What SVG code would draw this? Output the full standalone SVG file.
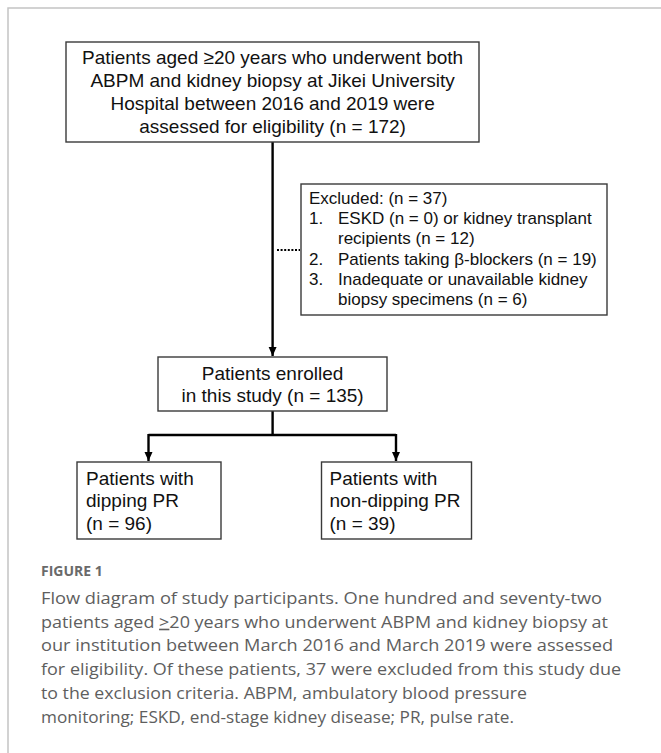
<svg xmlns="http://www.w3.org/2000/svg" width="661" height="753" viewBox="0 0 661 753">
<style>
.box{fill:#fff;stroke:#3a3a3a;stroke-width:1.4}
.t{font-family:"Liberation Sans",Arial,sans-serif;font-size:19px;fill:#111}
.ts{font-family:"Liberation Sans",Arial,sans-serif;font-size:17px;fill:#111}
.c{fill:none;stroke:#000;stroke-width:2.4}
.cap{font-family:"Open Sans","Noto Sans",sans-serif;font-size:16px;fill:#5e5e5e}
.fig{font-family:"Open Sans","Noto Sans",sans-serif;font-size:14px;font-weight:bold;fill:#6a6a6a}
</style>
<defs>
<marker id="ah" markerUnits="userSpaceOnUse" markerWidth="10" markerHeight="10" refX="9" refY="4" orient="auto">
<path d="M0,0 L9,4 L0,8 z" fill="#000"/>
</marker>
</defs>
<rect width="661" height="753" fill="#fff"/>
<path d="M8,753 V8 H661" fill="none" stroke="#c4c4c4" stroke-width="1.5"/>

<g id="connectors">
<path class="c" d="M272.6,142 V356" marker-end="url(#ah)"/>
<path d="M277,250 H300" fill="none" stroke="#000" stroke-width="2" stroke-dasharray="2 1.6"/>
<path class="c" d="M272.6,411 V435"/>
<path class="c" d="M148.5,435 H396"/>
<path class="c" d="M148.5,434 V461" marker-end="url(#ah)"/>
<path class="c" d="M396,434 V461" marker-end="url(#ah)"/>
</g>

<g id="assessed">
<rect class="box" x="66" y="42" width="413" height="100"/>
<text class="t" text-anchor="middle" x="272.6" y="64">Patients aged ≥20 years who underwent both</text>
<text class="t" text-anchor="middle" x="272.6" y="87">ABPM and kidney biopsy at Jikei University</text>
<text class="t" text-anchor="middle" x="272.6" y="110">Hospital between 2016 and 2019 were</text>
<text class="t" text-anchor="middle" x="272.6" y="133">assessed for eligibility (n = 172)</text>
</g>

<g id="excluded">
<rect class="box" x="301" y="184" width="306" height="131"/>
<text class="ts" x="309" y="204">Excluded: (n = 37)</text>
<text class="ts" x="309" y="224.2">1.</text>
<text class="ts" x="338" y="224.2">ESKD (n = 0) or kidney transplant</text>
<text class="ts" x="338" y="244.4">recipients (n = 12)</text>
<text class="ts" x="309" y="264.6">2.</text>
<text class="ts" x="338" y="264.6">Patients taking β-blockers (n = 19)</text>
<text class="ts" x="309" y="284.8">3.</text>
<text class="ts" x="338" y="284.8">Inadequate or unavailable kidney</text>
<text class="ts" x="338" y="305">biopsy specimens (n = 6)</text>
</g>

<g id="enrolled">
<rect class="box" x="158" y="357" width="229" height="54"/>
<text class="t" text-anchor="middle" x="272.6" y="380">Patients enrolled</text>
<text class="t" text-anchor="middle" x="272.6" y="402">in this study (n = 135)</text>
</g>

<g id="dipping">
<rect class="box" x="77" y="462" width="144" height="77"/>
<text class="t" x="86" y="484.5">Patients with</text>
<text class="t" x="86" y="507">dipping PR</text>
<text class="t" x="86" y="530">(n = 96)</text>
</g>

<g id="nondipping">
<rect class="box" x="321.5" y="462" width="150" height="77"/>
<text class="t" x="329.5" y="484.5">Patients with</text>
<text class="t" x="329.5" y="507">non-dipping PR</text>
<text class="t" x="329.5" y="530">(n = 39)</text>
</g>

<g id="caption">
<text class="fig" x="41" y="576">FIGURE 1</text>
<text class="cap" x="41" y="604" textLength="561" lengthAdjust="spacingAndGlyphs">Flow diagram of study participants. One hundred and seventy-two</text>
<text class="cap" x="41" y="627.7" textLength="567" lengthAdjust="spacingAndGlyphs">patients aged <tspan text-decoration="underline">&gt;</tspan>20 years who underwent ABPM and kidney biopsy at</text>
<text class="cap" x="41" y="651.4" textLength="572" lengthAdjust="spacingAndGlyphs">our institution between March 2016 and March 2019 were assessed</text>
<text class="cap" x="41" y="675.1" textLength="580" lengthAdjust="spacingAndGlyphs">for eligibility. Of these patients, 37 were excluded from this study due</text>
<text class="cap" x="41" y="698.8" textLength="486" lengthAdjust="spacingAndGlyphs">to the exclusion criteria. ABPM, ambulatory blood pressure</text>
<text class="cap" x="41" y="722.5" textLength="473" lengthAdjust="spacingAndGlyphs">monitoring; ESKD, end-stage kidney disease; PR, pulse rate.</text>
</g>
</svg>
